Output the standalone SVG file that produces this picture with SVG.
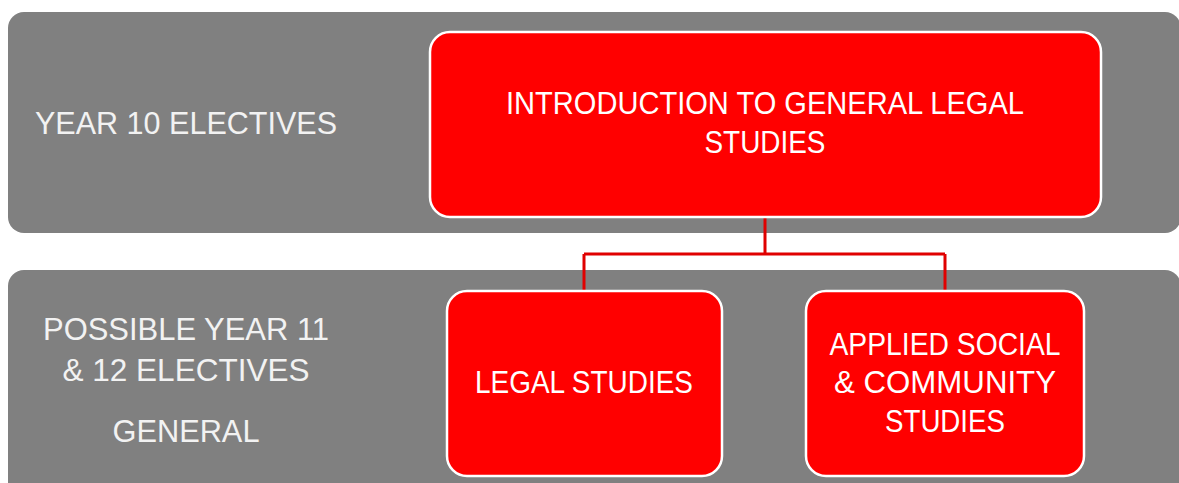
<svg xmlns="http://www.w3.org/2000/svg" width="1179" height="483" viewBox="0 0 1179 483">
<style>
.band{fill:#808080;}
.box{fill:#ff0000;stroke:#ffffff;stroke-width:2.5;}
.t{font-family:"Liberation Sans",Arial,sans-serif;font-size:31px;fill:#ffffff;text-anchor:middle;}
.tl{font-family:"Liberation Sans",Arial,sans-serif;font-size:31px;fill:#f2f2f2;text-anchor:middle;}
.conn{fill:none;stroke:#e00000;stroke-width:3;}
</style>
<rect width="1179" height="483" fill="#ffffff"/>
<g id="band-year10">
<rect class="band" x="8" y="12" width="1173" height="221" rx="16"/>
<text class="tl" x="186" y="134" textLength="302" lengthAdjust="spacingAndGlyphs">YEAR 10 ELECTIVES</text>
</g>
<g id="band-year11-12">
<rect class="band" x="8" y="270" width="1173" height="240" rx="16"/>
<text class="tl" x="186" y="340" textLength="286" lengthAdjust="spacingAndGlyphs">POSSIBLE YEAR 11</text>
<text class="tl" x="186" y="381" textLength="247" lengthAdjust="spacingAndGlyphs">&amp; 12 ELECTIVES</text>
<text class="tl" x="186" y="442" textLength="147" lengthAdjust="spacingAndGlyphs">GENERAL</text>
</g>
<g id="connectors">
<path class="conn" d="M765,217 V254 M584,254 H945 M584,254 V291 M945,254 V291"/>
</g>
<g id="node-intro">
<rect class="box" x="430" y="32" width="671" height="185" rx="20"/>
<text class="t" x="765" y="114" textLength="518" lengthAdjust="spacingAndGlyphs">INTRODUCTION TO GENERAL LEGAL</text>
<text class="t" x="765" y="153" textLength="121" lengthAdjust="spacingAndGlyphs">STUDIES</text>
</g>
<g id="node-legal">
<rect class="box" x="447" y="291" width="275" height="185" rx="20"/>
<text class="t" x="584" y="393" textLength="218" lengthAdjust="spacingAndGlyphs">LEGAL STUDIES</text>
</g>
<g id="node-applied">
<rect class="box" x="806" y="291" width="278" height="185" rx="20"/>
<text class="t" x="945" y="355" textLength="231" lengthAdjust="spacingAndGlyphs">APPLIED SOCIAL</text>
<text class="t" x="945" y="393" textLength="222" lengthAdjust="spacingAndGlyphs">&amp; COMMUNITY</text>
<text class="t" x="945" y="432" textLength="120" lengthAdjust="spacingAndGlyphs">STUDIES</text>
</g>
</svg>
